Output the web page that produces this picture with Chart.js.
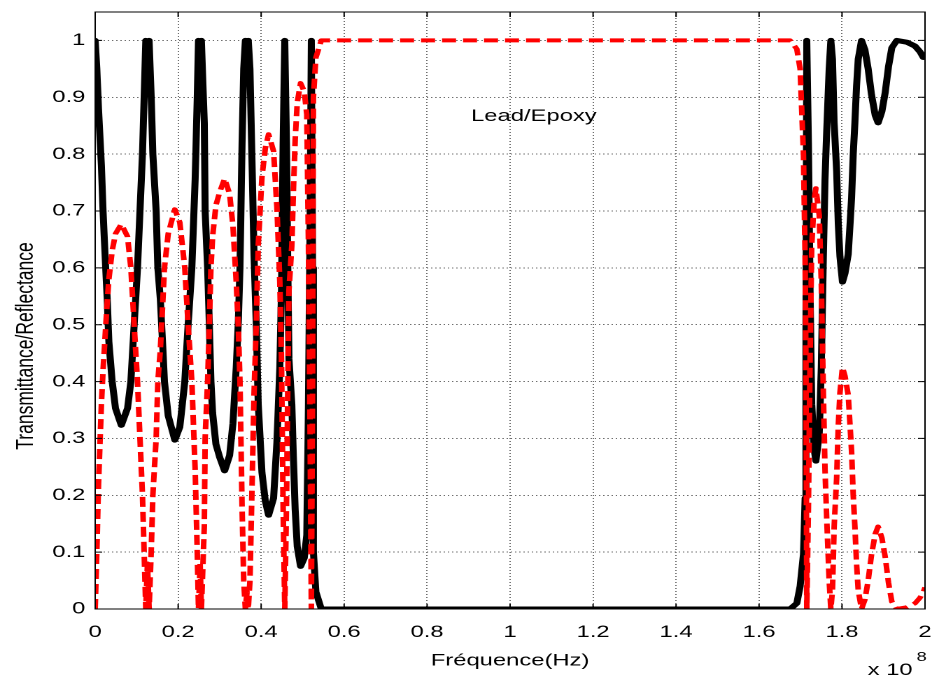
<!DOCTYPE html>
<html>
<head>
<meta charset="utf-8">
<title>Lead/Epoxy</title>
<script src="https://cdn.jsdelivr.net/npm/chart.js@4.4.1/dist/chart.umd.min.js"></script>
<style>
  html, body { margin: 0; padding: 0; background: #fff; overflow: hidden; }
  /* the original figure is stretched sideways, so the canvas is too */
  #wrap { width: 666px; height: 677px; transform: scaleX(1.3994); transform-origin: 0 0; }
</style>
</head>
<body>
<div id="wrap"><canvas id="chart" width="666" height="677"></canvas></div>
<script>
// frequency in units of 1e8 Hz
const freq = [
  0, 0.004, 0.008, 0.015, 0.019, 0.024, 0.029, 0.033, 0.041, 0.049, 0.063, 0.078, 0.086, 0.094, 0.102, 0.108, 0.114, 0.118, 0.122, 0.126, 0.130,
  0.135, 0.139, 0.147, 0.151, 0.157, 0.163, 0.167, 0.176, 0.192, 0.204, 0.216, 0.224, 0.233, 0.241, 0.246, 0.249, 0.253, 0.256,
  0.263, 0.265, 0.271, 0.275, 0.279, 0.283, 0.291, 0.300, 0.312, 0.324, 0.332, 0.340, 0.345, 0.349, 0.354, 0.358, 0.362, 0.366, 0.369,
  0.373, 0.377, 0.383, 0.388, 0.393, 0.402, 0.410, 0.418, 0.430, 0.438, 0.445, 0.449, 0.453, 0.457,
  0.461, 0.464, 0.467, 0.474, 0.478, 0.482, 0.487, 0.495, 0.504, 0.510, 0.514, 0.518, 0.521, 0.524, 0.526, 0.532, 0.545,
  0.6, 0.8, 1.0, 1.2, 1.4, 1.6,
  1.675, 1.691, 1.699, 1.707, 1.711, 1.713, 1.715, 1.719, 1.723, 1.727, 1.733, 1.737, 1.745, 1.750, 1.755, 1.759, 1.763, 1.769, 1.773,
  1.777, 1.781, 1.787, 1.791, 1.795, 1.801, 1.807, 1.815, 1.823, 1.827, 1.831, 1.835, 1.839, 1.847, 1.855, 1.863, 1.871, 1.880, 1.887,
  1.896, 1.904, 1.912, 1.920, 1.932, 1.956, 1.976, 1.988, 1.996, 2.000
];

// black solid curve
const transmittance = [
  1.00, 0.95, 0.88, 0.78, 0.70, 0.62, 0.545, 0.47, 0.40, 0.353, 0.323, 0.353, 0.40, 0.50, 0.60, 0.70, 0.80, 0.90, 1.00, 0.92, 1.00,
  0.90, 0.80, 0.70, 0.60, 0.545, 0.46, 0.40, 0.34, 0.297, 0.32, 0.40, 0.50, 0.60, 0.756, 0.90, 1.00, 0.92, 1.00,
  0.855, 0.70, 0.60, 0.505, 0.40, 0.345, 0.29, 0.267, 0.243, 0.27, 0.326, 0.425, 0.505, 0.60, 0.82, 0.95, 1.00, 0.97, 1.00,
  0.95, 0.82, 0.62, 0.505, 0.36, 0.24, 0.19, 0.165, 0.195, 0.293, 0.425, 0.56, 0.82, 1.00,
  0.82, 0.62, 0.44, 0.36, 0.26, 0.175, 0.11, 0.075, 0.09, 0.13, 0.36, 0.69, 1.00, 0.60, 0.10, 0.03, 0.00,
  0, 0, 0, 0, 0, 0,
  0.00, 0.01, 0.04, 0.096, 0.195, 0.49, 1.00, 0.82, 0.56, 0.36, 0.28, 0.26, 0.307, 0.425, 0.62, 0.755, 0.84, 0.95, 1.00,
  0.967, 0.855, 0.77, 0.677, 0.62, 0.575, 0.59, 0.624, 0.723, 0.80, 0.855, 0.92, 0.967, 1.00, 0.984, 0.95, 0.905, 0.868, 0.855,
  0.875, 0.908, 0.954, 0.987, 1.00, 0.997, 0.99, 0.98, 0.97, 0.975
];

// red dashed curve
const reflectance = [
  0.00, 0.10, 0.22, 0.36, 0.42, 0.48, 0.54, 0.58, 0.63, 0.66, 0.677, 0.655, 0.60, 0.50, 0.40, 0.30, 0.20, 0.10, 0.00, 0.08, 0.00,
  0.10, 0.20, 0.30, 0.40, 0.455, 0.54, 0.60, 0.66, 0.703, 0.68, 0.60, 0.50, 0.40, 0.244, 0.10, 0.00, 0.08, 0.00,
  0.145, 0.30, 0.40, 0.495, 0.60, 0.655, 0.71, 0.733, 0.757, 0.73, 0.674, 0.575, 0.495, 0.40, 0.18, 0.05, 0.00, 0.03, 0.00,
  0.05, 0.18, 0.38, 0.495, 0.64, 0.76, 0.81, 0.835, 0.805, 0.707, 0.575, 0.44, 0.18, 0.00,
  0.18, 0.38, 0.56, 0.64, 0.74, 0.825, 0.89, 0.925, 0.91, 0.87, 0.64, 0.31, 0.00, 0.40, 0.90, 0.97, 1.00,
  1, 1, 1, 1, 1, 1,
  1.00, 0.985, 0.95, 0.80, 0.62, 0.43, 0.00, 0.18, 0.44, 0.64, 0.72, 0.74, 0.693, 0.575, 0.38, 0.245, 0.16, 0.05, 0.00,
  0.033, 0.145, 0.23, 0.323, 0.38, 0.425, 0.41, 0.376, 0.277, 0.20, 0.145, 0.08, 0.033, 0.00, 0.016, 0.05, 0.095, 0.132, 0.145,
  0.125, 0.092, 0.046, 0.013, 0.00, 0.003, 0.01, 0.02, 0.03, 0.038
];

const xTicks = { min: 0, max: 2, step: 0.2 };
const yTicks = { min: 0, max: 1.05, step: 0.1 };

const FONT = 'Liberation Sans, Arial, sans-serif';

function fmt(v) {
  return String(Number(v.toFixed(1)));
}

// MATLAB style box: border plus inward ticks on all four sides, and the loose texts
const matlabBox = {
  id: 'matlabBox',
  afterDatasetsDraw(chart) {
    const { ctx, chartArea: a, scales } = chart;
    ctx.save();
    ctx.strokeStyle = '#000';
    ctx.lineWidth = 1;
    ctx.beginPath();
    scales.x.ticks.forEach(t => {
      const px = scales.x.getPixelForValue(t.value);
      ctx.moveTo(px, a.bottom); ctx.lineTo(px, a.bottom - 5);
      ctx.moveTo(px, a.top); ctx.lineTo(px, a.top + 5);
    });
    scales.y.ticks.forEach(t => {
      const py = scales.y.getPixelForValue(t.value);
      ctx.moveTo(a.left, py); ctx.lineTo(a.left + 5, py);
      ctx.moveTo(a.right, py); ctx.lineTo(a.right - 5, py);
    });
    ctx.stroke();
    ctx.strokeRect(a.left, a.top, a.right - a.left, a.bottom - a.top);
    ctx.restore();
  },
  afterDraw(chart) {
    const { ctx } = chart;
    ctx.save();
    ctx.fillStyle = '#000';

    ctx.font = '17px ' + FONT;
    ctx.textAlign = 'center';
    ctx.textBaseline = 'alphabetic';
    ctx.fillText('Lead/Epoxy', 381.5, 121);

    ctx.textAlign = 'left';
    ctx.fillText('x 10', 620, 675);
    ctx.font = '13px ' + FONT;
    ctx.fillText('8', 655, 661);

    ctx.translate(23.5, 346);
    ctx.rotate(-Math.PI / 2);
    ctx.textAlign = 'center';
    ctx.font = '17.5px ' + FONT;
    ctx.fillText('Transmittance/Reflectance', 0, 0);
    ctx.restore();
  }
};

new Chart(document.getElementById('chart'), {
  type: 'line',
  data: {
    datasets: [
      {
        label: 'Reflectance',
        data: freq.map((f, i) => ({ x: f, y: reflectance[i] })),
        borderColor: '#ff0000',
        borderWidth: 4,
        borderDash: [10, 5],
        borderCapStyle: 'butt',
        borderJoinStyle: 'round',
        pointRadius: 0,
        tension: 0,
        clip: 0
      },
      {
        label: 'Transmittance',
        data: freq.map((f, i) => ({ x: f, y: transmittance[i] })),
        borderColor: '#000000',
        borderWidth: 5,
        borderCapStyle: 'round',
        borderJoinStyle: 'round',
        pointRadius: 0,
        tension: 0,
        clip: 0
      }
    ]
  },
  options: {
    responsive: false,
    animation: false,
    devicePixelRatio: 2,
    layout: { padding: { left: 0, right: 5, top: 12, bottom: 0 } },
    plugins: {
      legend: { display: false },
      tooltip: { enabled: false }
    },
    scales: {
      x: {
        type: 'linear',
        min: xTicks.min,
        max: xTicks.max,
        afterFit(s) {
          s.height = 68;
          s.paddingLeft = 0;
          s.paddingRight = 0;
        },
        grid: { color: '#6e6e6e', lineWidth: 1, drawTicks: false },
        border: { display: false, dash: [1, 2] },
        ticks: {
          stepSize: xTicks.step,
          padding: 13,
          maxRotation: 0,
          autoSkip: false,
          color: '#000',
          font: { family: FONT, size: 17 },
          callback: v => fmt(v)
        },
        title: {
          display: true,
          text: 'Fréquence(Hz)',
          color: '#000',
          font: { family: FONT, size: 17 },
          padding: { top: 0, bottom: 6 }
        }
      },
      y: {
        min: yTicks.min,
        max: yTicks.max,
        afterFit(s) {
          s.width = 68;
          s.paddingTop = 0;
          s.paddingBottom = 0;
        },
        grid: { color: '#6e6e6e', lineWidth: 1, drawTicks: false },
        border: { display: false, dash: [1, 2] },
        ticks: {
          stepSize: yTicks.step,
          includeBounds: false,
          padding: 7,
          color: '#000',
          font: { family: FONT, size: 17 },
          callback: v => fmt(v)
        }
      }
    }
  },
  plugins: [matlabBox]
});
</script>
</body>
</html>
